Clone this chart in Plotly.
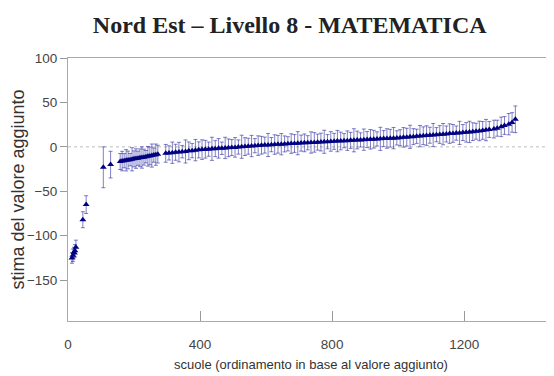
import plotly.graph_objects as go

# ---- data: schools ordered by value added (rank, estimate, half-width of interval)
tail_rank = [12, 15, 18, 21, 24, 45, 55, 107, 129]
tail_est = [-125, -122, -119, -117, -113, -82, -65, -23, -20]
tail_err = [6, 7, 6, 7, 8, 9, 10, 23, 15]

band1_rank = [158, 164, 170, 176, 182, 188, 194, 200, 206, 212, 218, 224, 230, 236,
              242, 248, 254, 260, 266, 272]
band1_est = [-16.5, -16.0, -15.6, -15.1, -14.8, -14.4, -14.0, -13.5, -13.2, -12.8,
             -12.3, -12.0, -11.6, -11.1, -10.7, -10.2, -9.8, -9.3, -8.8, -8.2]
band1_err = [9, 11, 8, 12, 10, 7, 13, 9, 11, 8, 10, 12, 9, 7, 11, 10, 13, 8, 12, 10]

band2_rank = [296, 306, 316, 326, 336, 346, 356, 366, 376, 386, 396, 406, 416, 426,
              436, 446, 456, 466, 476, 486, 496, 506, 516, 526, 536, 546, 556, 566,
              576, 586, 596, 606, 616, 626, 636, 646, 656, 666, 676, 686, 696, 706,
              716, 726, 736, 746, 756, 766, 776, 786, 796, 806, 816, 826, 836, 846,
              856, 866, 876, 886, 896, 906, 916, 926, 936, 946, 956, 966, 976, 986,
              996, 1006, 1016, 1026, 1036, 1046, 1056, 1066, 1076, 1086, 1096, 1106,
              1116, 1126, 1136, 1146, 1156, 1166, 1176, 1186, 1196, 1206, 1216, 1226,
              1236, 1246, 1256, 1266, 1276]
band2_est = [-7.3, -6.8, -6.6, -6.1, -5.9, -5.4, -5.2, -4.5, -4.3, -3.7, -3.4, -3.1,
             -2.7, -2.6, -2.2, -2.0, -1.7, -1.6, -1.2, -1.1, -0.8, -0.6, -0.2, 0.1,
             0.3, 0.7, 0.9, 1.3, 1.4, 1.8, 2.0, 2.1, 2.5, 2.6, 2.9, 3.0, 3.3, 3.4,
             3.7, 3.8, 4.1, 4.2, 4.5, 4.6, 4.9, 5.0, 5.3, 5.4, 5.7, 5.8, 6.1, 6.2,
             6.5, 6.6, 6.9, 7.0, 7.3, 7.4, 7.7, 7.8, 8.1, 8.2, 8.5, 8.6, 8.9, 9.0,
             9.3, 9.4, 9.7, 9.8, 10.1, 10.3, 10.7, 10.9, 11.3, 11.5, 11.9, 12.1, 12.5,
             12.7, 13.1, 13.3, 13.7, 13.9, 14.3, 14.5, 14.9, 15.1, 15.5, 15.7, 16.1,
             16.3, 16.8, 17.1, 17.6, 17.9, 18.5, 18.9, 19.6]
band2_err = [10, 8, 12, 9, 11, 7, 13, 10, 8, 12, 9, 11, 10, 8, 13, 9, 11, 7, 12, 10,
             9, 11, 8, 13, 10, 9, 12, 8, 11, 10, 9, 13, 8, 11, 10, 12, 9, 8, 11, 10,
             13, 9, 10, 8, 12, 11, 9, 10, 13, 8, 11, 9, 12, 10, 8, 11, 9, 13, 10, 8,
             12, 9, 11, 10, 8, 13, 9, 11, 10, 12, 8, 9, 11, 10, 13, 9, 8, 12, 10, 11,
             9, 13, 8, 10, 12, 9, 11, 10, 8, 13, 9, 11, 12, 10, 9, 11, 10, 12, 9]

top_rank = [1290, 1300, 1312, 1322, 1335, 1345, 1355]
top_est = [20.0, 21.0, 22.5, 24.0, 25.5, 27.5, 31.0]
top_err = [10, 9, 11, 10, 12, 11, 15]

x_ticks = [0, 400, 800, 1200]
y_ticks = [-150, -100, -50, 0, 50, 100]

rank = tail_rank + band1_rank + band2_rank + top_rank
est = tail_est + band1_est + band2_est + top_est
err = tail_err + band1_err + band2_err + top_err

navy = "#000080"
fig = go.Figure()
fig.add_trace(go.Scatter(
    x=rank, y=est, mode="markers",
    marker=dict(symbol="triangle-up", size=6, color=navy),
    error_y=dict(type="data", array=err, visible=True, color="rgba(20,20,150,0.6)",
                 thickness=0.9, width=2),
    showlegend=False,
))

fig.add_hline(y=0, line=dict(color="#bdbdbd", width=1, dash="dot"), layer="below")

fig.update_layout(
    width=546, height=368,
    margin=dict(l=60, r=0, t=50, b=55),
    paper_bgcolor="white", plot_bgcolor="white",
    title=dict(text="<b>Nord Est – Livello 8 - MATEMATICA</b>", x=0.516, xanchor="center",
               y=0.955, yanchor="middle",
               font=dict(family="Liberation Serif", size=24, color="#222")),
    font=dict(family="Liberation Sans", color="#444"),
)
fig.update_xaxes(range=[0, 1472], tickvals=x_ticks, ticks="inside", ticklen=10,
                 tickcolor="#999", showline=True, linecolor="#aaa", linewidth=1,
                 mirror=True, showgrid=False, zeroline=False, automargin=False,
                 ticklabelstandoff=11,
                 tickfont=dict(size=13.5, color="#444"),
                 title=dict(text="scuole (ordinamento in base al valore aggiunto)",
                            font=dict(size=13, color="#333"), standoff=8))
fig.update_yaxes(range=[-196, 100], tickvals=y_ticks, ticks="outside", ticklen=7,
                 tickcolor="#999", showline=True, linecolor="#aaa", linewidth=1,
                 showgrid=False, zeroline=False, automargin=False,
                 tickfont=dict(size=13.5, color="#444"),
                 title=dict(text="stima del valore aggiunto",
                            font=dict(size=18, color="#333"), standoff=3))

fig.write_html("out.html")
